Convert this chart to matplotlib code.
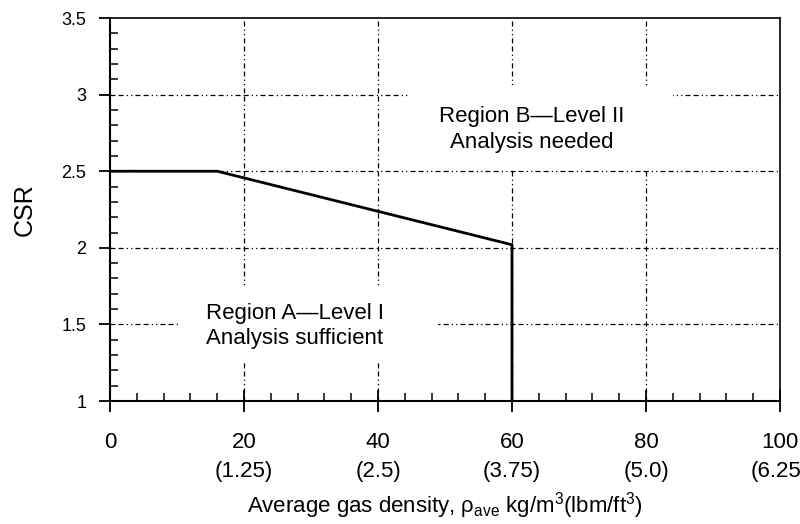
import matplotlib
matplotlib.use('Agg')
import matplotlib.pyplot as plt
import matplotlib.patches as patches
from matplotlib.ticker import MultipleLocator

plt.rcParams['font.family'] = ['Liberation Sans', 'DejaVu Sans']
plt.rcParams['mathtext.fontset'] = 'custom'
plt.rcParams['mathtext.rm'] = 'Liberation Sans'

# boundary between region A and region B
boundary_x = [0, 16, 60, 60]
boundary_y = [2.5, 2.5, 2.02, 1.0]

x_ticks = [0, 20, 40, 60, 80, 100]
x_tick_labels = ['0', '20\n(1.25)', '40\n(2.5)', '60\n(3.75)', '80\n(5.0)', '100\n(6.25)']
y_ticks = [1, 1.5, 2, 2.5, 3, 3.5]
y_tick_labels = ['1', '1.5', '2', '2.5', '3', '3.5']

region_a_text = 'Region A\u2014Level I\nAnalysis sufficient'
region_b_text = 'Region B\u2014Level II\nAnalysis needed'

fig = plt.figure(figsize=(8, 5.24), dpi=100)
ax = fig.add_axes([0.1375, 0.2347, 0.8375, 0.7309])

ax.set_xlim(0, 100)
ax.set_ylim(1, 3.5)

# dash-dot grid
grid_style = (0, (4, 2.5, 4, 2.5, 1, 2.5, 1, 2.5))
for gx in x_ticks[1:-1]:
    ax.plot([gx, gx], [1, 3.5], color='black', lw=0.9, linestyle=grid_style, zorder=1)
for gy in y_ticks[1:-1]:
    ax.plot([0, 100], [gy, gy], color='black', lw=0.9, linestyle=grid_style, zorder=1)

# white boxes behind the labels mask the grid
ax.add_patch(patches.Rectangle((10.1, 1.255), 38.9, 0.49, facecolor='white', edgecolor='none', zorder=2))
ax.add_patch(patches.Rectangle((44.8, 2.51), 39.2, 0.53, facecolor='white', edgecolor='none', zorder=2))

ax.plot(boundary_x, boundary_y, color='black', lw=2, zorder=3)

ax.text(27.6, 1.49, region_a_text, ha='center', va='center', fontsize=16, linespacing=1.3, zorder=4)
ax.text(63.0, 2.77, region_b_text, ha='center', va='center', fontsize=16, linespacing=1.3, zorder=4)

ax.set_xticks(x_ticks)
ax.set_xticklabels(x_tick_labels, fontsize=16, linespacing=1.5)
ax.set_yticks(y_ticks)
ax.set_yticklabels(y_tick_labels, fontsize=13)
ax.xaxis.set_minor_locator(MultipleLocator(4))
ax.yaxis.set_minor_locator(MultipleLocator(0.1))

ax.tick_params(axis='x', which='major', direction='inout', length=16, width=1.3, pad=14)
ax.tick_params(axis='x', which='minor', direction='in', length=6, width=1.1)
ax.tick_params(axis='y', which='major', direction='out', length=8, width=1.3, pad=9)
ax.tick_params(axis='y', which='minor', direction='in', length=6, width=1.1)

for side in ['left', 'bottom']:
    ax.spines[side].set_linewidth(1.5)
for side in ['top', 'right']:
    ax.spines[side].set_linewidth(1.2)

ax.set_ylabel('CSR', fontsize=18, labelpad=18)
ax.set_xlabel('Average gas density, \u03c1$_{\\rm ave}$ kg/m$^3$(lbm/ft$^3$)', fontsize=16, labelpad=6)

fig.savefig('out.png', dpi=100)
